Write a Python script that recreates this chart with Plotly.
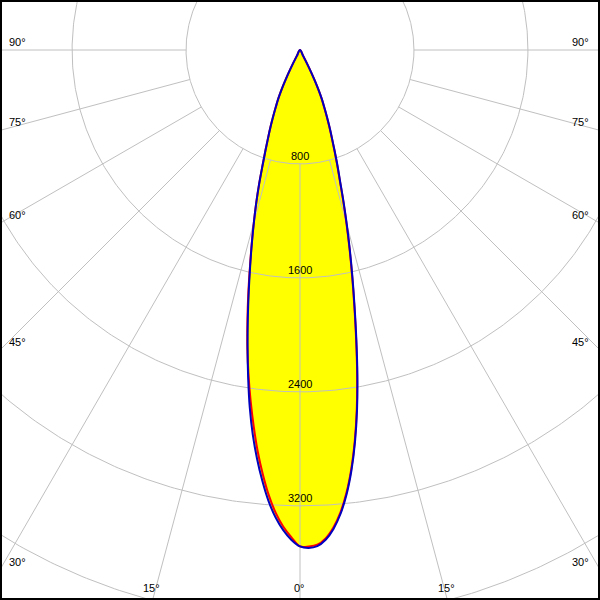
import numpy as np
import plotly.graph_objects as go

# ---- data (candela), gamma measured from nadir ----
gamma_deg = list(range(0, 30))
c0_cd = [3485, 3496, 3485, 3443, 3370, 3268, 3134, 2969, 2776, 2559, 2320, 2074, 1843,
         1636, 1446, 1271, 1109, 962, 849, 744, 653, 576, 502, 435, 376, 305, 225, 137, 49, 0]
c180_cd = [3485, 3440, 3373, 3285, 3173, 3036, 2885, 2720, 2534, 2327, 2120, 1920, 1730,
           1555, 1397, 1250, 1113, 979, 849, 744, 653, 576, 502, 435, 376, 305, 225, 137, 49, 0]
c90_cd = [3485, 3486, 3475, 3433, 3360, 3258, 3124, 2959, 2766, 2549, 2310, 2064, 1833,
          1626, 1436, 1261, 1100, 953, 841, 737, 647, 570, 497, 430, 372, 301, 222, 135, 48, 0]
c270_cd = [3485, 3422, 3349, 3254, 3134, 2991, 2836, 2664, 2489, 2310, 2127, 1934, 1745,
           1562, 1400, 1250, 1113, 979, 849, 744, 653, 576, 502, 435, 376, 305, 225, 137, 49, 0]

ring_values = [800, 1600, 2400, 3200, 4000]
ring_labels = ["800", "1600", "2400", "3200"]
spoke_angles = [-90, -75, -60, -45, -30, -15, 0, 15, 30, 45, 60, 75, 90]
spoke_labels = ["90°", "75°", "60°", "45°", "30°", "15°", "0°",
                "15°", "30°", "45°", "60°", "75°", "90°"]

# ---- layout geometry ----
PX = 7.02            # candela per pixel
W = H = 600
CX, CY = 300, 50     # pole position in pixels
x_range = [-CX * PX, (W - CX) * PX]
y_range = [-(H - CY) * PX, CY * PX]

GRID = "#c0c0c0"
FONT = dict(family="Liberation Sans, Arial, sans-serif", size=11, color="black")


def plane_xy(right_vals, left_vals):
    g = np.radians(gamma_deg)
    vl = np.array(left_vals, dtype=float)[::-1]
    gl = g[::-1]
    xl = -vl * np.sin(gl)
    yl = -vl * np.cos(gl)
    vr = np.array(right_vals, dtype=float)[1:]
    gr = g[1:]
    xr = vr * np.sin(gr)
    yr = -vr * np.cos(gr)
    return np.concatenate([xl, xr]), np.concatenate([yl, yr])


fig = go.Figure()

bx, by = plane_xy(c0_cd, c180_cd)
rx, ry = plane_xy(c90_cd, c270_cd)

# yellow fill
fig.add_trace(go.Scatter(x=bx, y=by, mode="lines", fill="toself", fillcolor="#ffff00",
                         line=dict(width=0, color="#ffff00", shape="spline"),
                         hoverinfo="skip", showlegend=False))

# rings
th = np.linspace(0, 2 * np.pi, 721)
for r in ring_values:
    fig.add_trace(go.Scatter(x=r * np.cos(th), y=r * np.sin(th), mode="lines",
                             line=dict(color=GRID, width=1), hoverinfo="skip",
                             showlegend=False))

# spokes from first ring outward
r_in, r_out = ring_values[0], 8000
for a in spoke_angles:
    s, c = np.sin(np.radians(a)), -np.cos(np.radians(a))
    fig.add_trace(go.Scatter(x=[r_in * s, r_out * s], y=[r_in * c, r_out * c], mode="lines",
                             line=dict(color=GRID, width=1), hoverinfo="skip",
                             showlegend=False))

# curves
fig.add_trace(go.Scatter(x=rx, y=ry, mode="lines",
                         line=dict(color="#ff0000", width=2, shape="spline"),
                         hoverinfo="skip", showlegend=False))
fig.add_trace(go.Scatter(x=bx, y=by, mode="lines",
                         line=dict(color="#0000c0", width=2, shape="spline"),
                         hoverinfo="skip", showlegend=False))

annotations = []
for r, lab in zip(ring_values, ring_labels):
    annotations.append(dict(x=0, y=-r, xref="x", yref="y", text=lab, showarrow=False,
                            yshift=8, xanchor="center", yanchor="middle", font=FONT))

for a, lab in zip(spoke_angles, spoke_labels):
    s, c = np.sin(np.radians(a)), -np.cos(np.radians(a))
    tx = np.inf if abs(s) < 1e-9 else (x_range[1] if s > 0 else x_range[0]) / s
    ty = np.inf if c > -1e-9 else y_range[0] / c
    if tx < ty:
        hy = tx * c
        if s < 0:
            annotations.append(dict(x=x_range[0], y=hy, xref="x", yref="y", text=lab,
                                    showarrow=False, xanchor="left", yanchor="middle",
                                    xshift=7, yshift=8, font=FONT))
        else:
            annotations.append(dict(x=x_range[1], y=hy, xref="x", yref="y", text=lab,
                                    showarrow=False, xanchor="right", yanchor="middle",
                                    xshift=-9, yshift=8, font=FONT))
    else:
        hx = ty * s
        annotations.append(dict(x=hx, y=y_range[0], xref="x", yref="y", text=lab,
                                showarrow=False, xanchor="center", yanchor="middle",
                                xshift=-1, yshift=12, font=FONT))

fig.update_layout(
    width=W, height=H,
    margin=dict(l=0, r=0, t=0, b=0),
    paper_bgcolor="white", plot_bgcolor="white",
    xaxis=dict(range=x_range, visible=False, fixedrange=True),
    yaxis=dict(range=y_range, visible=False, fixedrange=True),
    annotations=annotations,
    shapes=[dict(type="rect", xref="paper", yref="paper", x0=0, y0=0, x1=1, y1=1,
                 line=dict(color="black", width=4), layer="above")],
    showlegend=False,
)

fig.write_html("out.html", config={"displayModeBar": False},
               post_script="document.body.style.margin='0';document.body.style.padding='0';")
